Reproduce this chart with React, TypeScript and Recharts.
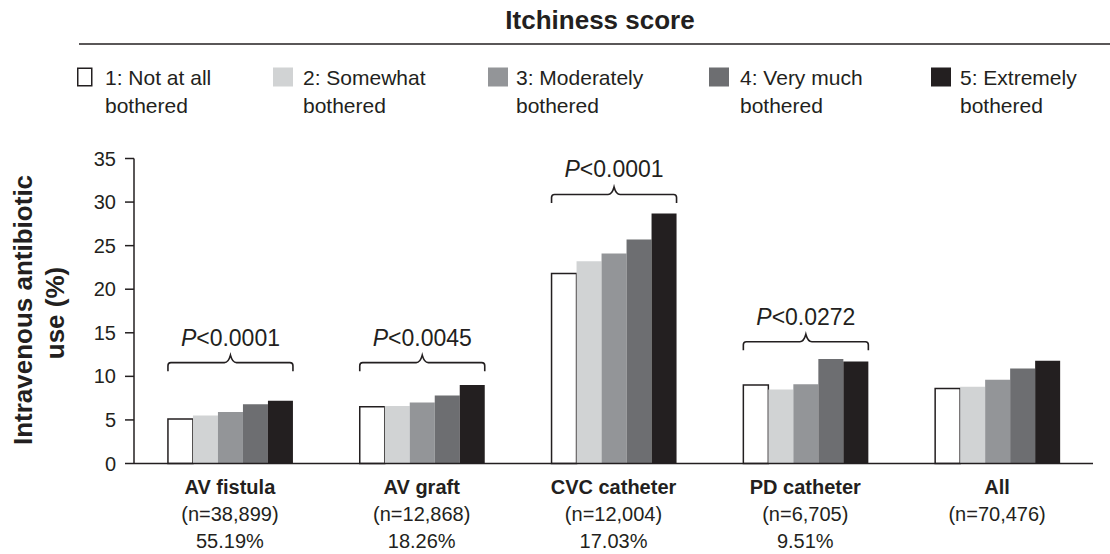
import React from 'react';
import { BarChart, Bar, XAxis, YAxis, LabelList } from 'recharts';

// access types
const categories = ['AV fistula', 'AV graft', 'CVC catheter', 'PD catheter', 'All'];
const sampleSizes = ['(n=38,899)', '(n=12,868)', '(n=12,004)', '(n=6,705)', '(n=70,476)'];
const shares = ['55.19%', '18.26%', '17.03%', '9.51%', ''];

// IV antibiotic use (%) by itchiness score
const score1 = [5.1, 6.5, 21.8, 9.0, 8.6];
const score2 = [5.5, 6.6, 23.2, 8.5, 8.8];
const score3 = [5.9, 7.0, 24.1, 9.1, 9.6];
const score4 = [6.8, 7.8, 25.7, 12.0, 10.9];
const score5 = [7.2, 9.0, 28.7, 11.7, 11.8];

// significance brackets
const pValues = ['<0.0001', '<0.0045', '<0.0001', '<0.0272', null];
const bracketLevels = [10.6, 10.6, 29.9, 13.0, null];

const yTicks = [0, 5, 10, 15, 20, 25, 30, 35];

const legendLine1 = ['1: Not at all', '2: Somewhat', '3: Moderately', '4: Very much', '5: Extremely'];
const legendLine2 = ['bothered', 'bothered', 'bothered', 'bothered', 'bothered'];

const INK = '#231f20';
const COLORS = ['#ffffff', '#d1d3d4', '#939598', '#6d6e71', '#231f20'];
const FONT = '"Liberation Sans", Arial, sans-serif';

// legend layout (square x, text x)
const legendSquareX = [77, 273, 488, 709, 931];
const legendTextX = [105, 303, 516, 740, 960];

const data = categories.map((name, i) => ({
  name,
  score1: score1[i],
  score2: score2[i],
  score3: score3[i],
  score4: score4[i],
  score5: score5[i],
}));

const CategoryTick = (props: any) => {
  const { x, y, payload, index } = props;
  const i = typeof index === 'number' ? index : categories.indexOf(payload.value);
  return (
    <g>
      <text x={x} y={y + 30} textAnchor="middle" fontFamily={FONT} fontSize={20} fontWeight="bold" fill={INK}>
        {payload.value}
      </text>
      <text x={x} y={y + 57} textAnchor="middle" fontFamily={FONT} fontSize={20} fill={INK}>
        {sampleSizes[i]}
      </text>
      <text x={x} y={y + 84} textAnchor="middle" fontFamily={FONT} fontSize={20} fill={INK}>
        {shares[i]}
      </text>
    </g>
  );
};

// draws the curly bracket + P value over a whole group, anchored on the first bar
const Bracket = (props: any) => {
  const { index } = props;
  const vb = props.viewBox ?? props;
  const level = bracketLevels[index];
  if (level == null) return null;
  const x = Number(vb.x);
  const y = Number(vb.y);
  const w = Number(vb.width);
  const h = Number(vb.height);
  const ppu = h / score1[index];
  const base = y + h;
  const endY = base - level * ppu;
  const lineY = endY - 8.5;
  const x0 = x;
  const x1 = x + w * 5;
  const cx = (x0 + x1) / 2;
  const d = `M${x0},${endY} L${x0},${lineY + 3} Q${x0},${lineY} ${x0 + 3},${lineY} L${cx - 6},${lineY} Q${cx - 2},${lineY} ${cx},${lineY - 7.5} Q${cx + 2},${lineY} ${cx + 6},${lineY} L${x1 - 3},${lineY} Q${x1},${lineY} ${x1},${lineY + 3} L${x1},${endY}`;
  return (
    <g>
      <path d={d} fill="none" stroke={INK} strokeWidth={1.6} />
      <text x={cx} y={lineY - 17} textAnchor="middle" fontFamily={FONT} fontSize={23} fill={INK}>
        <tspan fontStyle="italic">P</tspan>
        <tspan>{pValues[index]}</tspan>
      </text>
    </g>
  );
};

export default function App() {
  return (
    <div style={{ position: 'absolute', left: 0, top: 0, width: 1110, height: 554, background: '#fff' }}>
      <BarChart
        width={1110}
        height={554}
        data={data}
        margin={{ top: 158.5, right: 17, left: 0, bottom: 0.5 }}
        barCategoryGap="17.7%"
        barGap={0}
      >
        <XAxis
          dataKey="name"
          height={90}
          tickLine={false}
          tickSize={0}
          tickMargin={0}
          interval={0}
          axisLine={{ stroke: INK, strokeWidth: 1.5 }}
          tick={<CategoryTick />}
        />
        <YAxis
          width={134}
          domain={[0, 35]}
          ticks={yTicks}
          interval={0}
          tickSize={9}
          tickMargin={9}
          axisLine={{ stroke: INK, strokeWidth: 1.5 }}
          tickLine={{ stroke: INK, strokeWidth: 1.5 }}
          tick={{ fill: INK, fontSize: 20, fontFamily: FONT }}
        />
        <Bar dataKey="score1" fill={COLORS[0]} stroke={INK} strokeWidth={1.5} isAnimationActive={false}>
          <LabelList dataKey="score1" content={<Bracket />} />
        </Bar>
        <Bar dataKey="score2" fill={COLORS[1]} isAnimationActive={false} />
        <Bar dataKey="score3" fill={COLORS[2]} isAnimationActive={false} />
        <Bar dataKey="score4" fill={COLORS[3]} isAnimationActive={false} />
        <Bar dataKey="score5" fill={COLORS[4]} isAnimationActive={false} />
      </BarChart>

      {/* title, rule, legend, y label */}
      <svg width={1110} height={554} style={{ position: 'absolute', left: 0, top: 0, pointerEvents: 'none' }}>
        <text x={600} y={29} textAnchor="middle" fontFamily={FONT} fontSize={26} fontWeight="bold" fill={INK}>
          Itchiness score
        </text>
        <line x1={79} x2={1110} y1={44} y2={44} stroke={INK} strokeWidth={1.5} />
        {legendLine1.map((label, i) => (
          <g key={label}>
            <rect
              x={legendSquareX[i] + (i === 0 ? 0.75 : 0)}
              y={i === 0 ? 68.25 : 67.5}
              width={i === 0 ? 14 : 20}
              height={i === 0 ? 17.5 : 19}
              fill={COLORS[i]}
              stroke={i === 0 ? INK : 'none'}
              strokeWidth={1.5}
            />
            <text x={legendTextX[i]} y={85} fontFamily={FONT} fontSize={21} fill={INK}>{label}</text>
            <text x={legendTextX[i]} y={113} fontFamily={FONT} fontSize={21} fill={INK}>{legendLine2[i]}</text>
          </g>
        ))}
        <text transform="translate(32,310) rotate(-90)" textAnchor="middle" fontFamily={FONT} fontSize={26} fontWeight="bold" fill={INK}>
          Intravenous antibiotic
        </text>
        <text transform="translate(64,313) rotate(-90)" textAnchor="middle" fontFamily={FONT} fontSize={26} fontWeight="bold" fill={INK}>
          use (%)
        </text>
      </svg>
    </div>
  );
}
